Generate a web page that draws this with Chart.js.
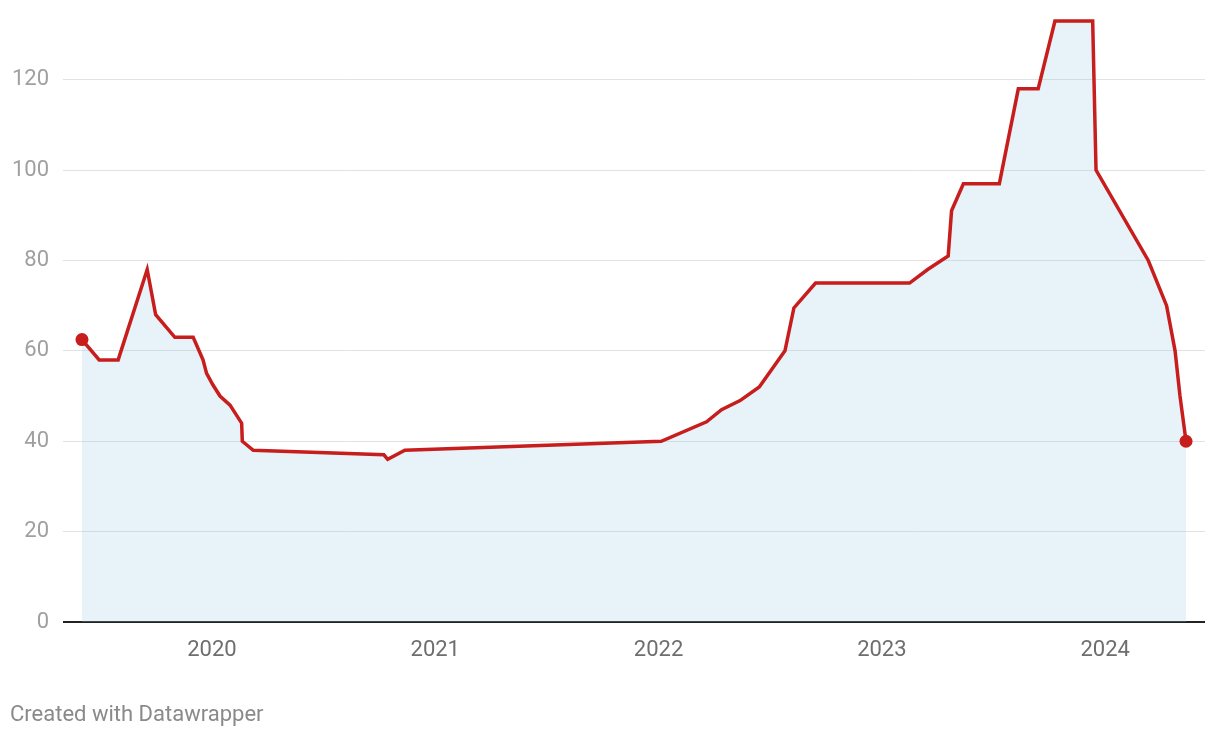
<!DOCTYPE html>
<html>
<head>
<meta charset="utf-8">
<script src="https://cdn.jsdelivr.net/npm/chart.js@4/dist/chart.umd.min.js"></script>
<style>
  html, body { margin: 0; padding: 0; background: #fff; }
  #wrap { position: relative; width: 1220px; height: 738px; }
  #footer { position: absolute; left: 10px; top: 701px; font-family: Roboto, "Noto Sans", sans-serif; font-size: 22px; color: #8a8a8a; }
</style>
</head>
<body>
<div id="wrap">
  <canvas id="c" width="1220" height="738"></canvas>
  <div id="footer">Created with Datawrapper</div>
</div>
<script>
// Dates as decimal years
const dates = [
  2019.418, 2019.495, 2019.580, 2019.710, 2019.748, 2019.834, 2019.916, 2019.960,
  2019.976, 2020.004, 2020.036, 2020.081, 2020.133, 2020.136, 2020.185,
  2020.770, 2020.787, 2020.864,
  2022.012, 2022.215, 2022.282, 2022.365, 2022.451, 2022.566, 2022.606, 2022.703,
  2023.124, 2023.205, 2023.297, 2023.312, 2023.365, 2023.526, 2023.611, 2023.700,
  2023.775, 2023.944, 2023.959, 2024.193, 2024.275, 2024.313, 2024.335, 2024.362
];
const values = [
  62.5, 58, 58, 78, 68, 63, 63, 58,
  55, 52.5, 50, 48, 44, 40, 38,
  37, 36, 38,
  40, 44.3, 47, 49, 52, 60, 69.5, 75,
  75, 78, 81, 91, 97, 97, 118, 118,
  133, 133, 100, 80, 70, 60, 50, 40
];
const yearTicks = [2020, 2021, 2022, 2023, 2024];
const valueTicks = [0, 20, 40, 60, 80, 100, 120];

const xMin = 2019.333, xMax = 2024.447;
const yMin = 0, yMax = 133;

const points = dates.map((d, i) => ({ x: d, y: values[i] }));
const radii = values.map((v, i) => (i === 0 || i === values.length - 1) ? 6.5 : 0);

new Chart(document.getElementById('c'), {
  type: 'line',
  data: {
    datasets: [{
      data: points,
      borderColor: '#c71e1d',
      borderWidth: 3.5,
      backgroundColor: 'rgba(150,200,230,0.23)',
      fill: 'origin',
      tension: 0,
      pointRadius: radii,
      pointHoverRadius: radii,
      pointBackgroundColor: '#c71e1d',
      pointBorderWidth: 0,
      clip: false
    }]
  },
  options: {
    responsive: false,
    animation: false,
    events: [],
    layout: { padding: { top: 21, right: 15, bottom: 0, left: 0 } },
    plugins: { legend: { display: false }, tooltip: { enabled: false } },
    scales: {
      x: {
        type: 'linear',
        min: xMin, max: xMax,
        afterBuildTicks: (s) => { s.ticks = yearTicks.map(v => ({ value: v })); },
        afterFit: (s) => { s.height = 116; s.paddingLeft = 0; s.paddingRight = 0; },
        grid: { display: false, drawTicks: false },
        border: { display: false },
        ticks: {
          padding: 15,
          color: '#6e6e6e',
          font: { family: 'Roboto', size: 22 },
          maxRotation: 0,
          autoSkip: false,
          callback: (v) => String(v)
        }
      },
      y: {
        min: yMin, max: yMax,
        afterBuildTicks: (s) => { s.ticks = valueTicks.map(v => ({ value: v })); },
        afterFit: (s) => { s.width = 63; s.paddingTop = 0; s.paddingBottom = 0; },
        grid: {
          drawTicks: false,
          color: (ctx) => ctx.tick && ctx.tick.value === 0 ? '#222' : '#e2e2e2',
          lineWidth: (ctx) => ctx.tick && ctx.tick.value === 0 ? 2 : 1
        },
        border: { display: false },
        ticks: {
          padding: 14,
          color: '#a0a0a0',
          font: { family: 'Roboto', size: 22 },
          callback: (v) => String(v)
        }
      }
    }
  }
});
</script>
</body>
</html>
